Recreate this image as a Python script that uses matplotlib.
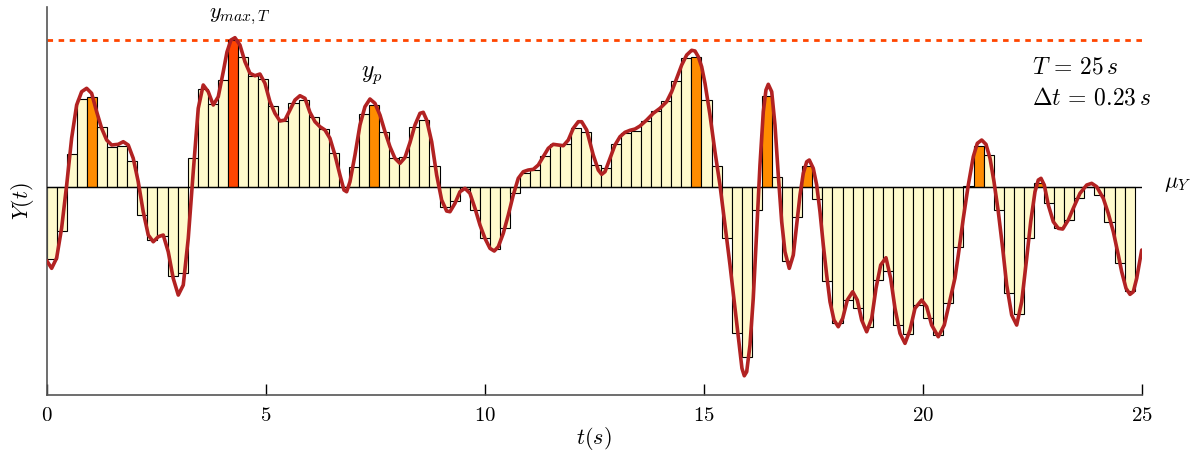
import numpy as np
import matplotlib
matplotlib.use("Agg")
import matplotlib.pyplot as plt

plt.rcParams['mathtext.fontset'] = 'cm'
plt.rcParams['font.family'] = 'serif'

# record length and sampling step
T = 25.0
dt = 0.23

# sampled values, one per step interval (deviation from the mean)
y_steps = [
    -0.72, -0.44, 0.33, 0.88, 0.90, 0.60, 0.40, 0.41, 0.26, -0.28,
    -0.53, -0.49, -0.89, -0.86, 0.29, 0.98, 0.83, 1.07, 1.46, 1.30,
    1.11, 1.08, 0.81, 0.66, 0.84, 0.87, 0.70, 0.58, 0.34, 0.00,
    0.20, 0.73, 0.82, 0.55, 0.29, 0.30, 0.60, 0.67, 0.21, -0.20,
    -0.14, -0.02, -0.23, -0.51, -0.62, -0.41, -0.06, 0.14, 0.17, 0.31,
    0.43, 0.43, 0.59, 0.55, 0.22, 0.19, 0.43, 0.54, 0.56, 0.66,
    0.76, 0.86, 1.06, 1.29, 1.30, 0.87, 0.21, -0.51, -1.46, -1.70,
    -0.23, 0.91, 0.10, -0.74, -0.30, 0.21, -0.12, -0.94, -1.36, -1.13,
    -1.21, -1.40, -0.93, -0.84, -1.38, -1.47, -1.18, -1.31, -1.48, -1.16,
    -0.60, 0.01, 0.41, 0.32, -0.23, -1.06, -1.27, -0.51, 0.04, -0.16,
    -0.41, -0.33, -0.11, 0.00, -0.08, -0.35, -0.76, -1.04,
]

# local peaks above the mean, and the overall maximum
peak_idx = [4, 32, 64, 71, 75, 92, 98]
max_idx = 18

# continuous record Y(t)
t_curve = [
    0.000, 0.114, 0.228, 0.342, 0.457, 0.571, 0.685, 0.799, 0.913, 1.027,
    1.142, 1.256, 1.370, 1.484, 1.635, 1.749, 1.863, 1.977, 2.091, 2.205,
    2.320, 2.434, 2.548, 2.662, 2.776, 2.890, 3.005, 3.119, 3.233, 3.347,
    3.461, 3.575, 3.689, 3.804, 3.918, 4.032, 4.117, 4.208, 4.299, 4.413,
    4.527, 4.642, 4.756, 4.870, 4.984, 5.098, 5.212, 5.326, 5.441, 5.555,
    5.669, 5.783, 5.897, 6.011, 6.126, 6.240, 6.354, 6.468, 6.582, 6.696,
    6.788, 6.849, 6.925, 7.039, 7.153, 7.267, 7.381, 7.495, 7.610, 7.724,
    7.838, 7.952, 8.066, 8.180, 8.295, 8.409, 8.523, 8.598, 8.676, 8.790,
    8.904, 9.018, 9.132, 9.208, 9.322, 9.436, 9.550, 9.664, 9.779, 9.893,
    10.007, 10.121, 10.219, 10.311, 10.425, 10.539, 10.653, 10.767, 10.881, 10.995,
    11.110, 11.224, 11.338, 11.452, 11.566, 11.680, 11.795, 11.909, 12.023, 12.137,
    12.215, 12.329, 12.479, 12.594, 12.671, 12.747, 12.861, 12.975, 13.089, 13.203,
    13.317, 13.432, 13.546, 13.699, 13.849, 14.002, 14.155, 14.269, 14.384, 14.498,
    14.612, 14.726, 14.801, 14.877, 14.954, 15.030, 15.144, 15.258, 15.372, 15.486,
    15.601, 15.715, 15.813, 15.874, 15.927, 15.982, 16.057, 16.132, 16.210, 16.285,
    16.361, 16.422, 16.475, 16.553, 16.628, 16.703, 16.781, 16.856, 16.954, 17.046,
    17.123, 17.199, 17.274, 17.352, 17.411, 17.502, 17.580, 17.655, 17.731, 17.808,
    17.884, 17.975, 18.073, 18.174, 18.279, 18.402, 18.507, 18.607, 18.721, 18.836,
    18.934, 19.041, 19.162, 19.269, 19.368, 19.482, 19.596, 19.710, 19.824, 19.977,
    20.091, 20.205, 20.356, 20.493, 20.623, 20.737, 20.813, 20.927, 21.041, 21.155,
    21.247, 21.347, 21.445, 21.537, 21.628, 21.726, 21.826, 21.918, 22.032, 22.146,
    22.260, 22.374, 22.466, 22.564, 22.639, 22.701, 22.776, 22.868, 22.982, 23.096,
    23.196, 23.324, 23.438, 23.591, 23.744, 23.858, 23.973, 24.123, 24.237, 24.352,
    24.466, 24.543, 24.642, 24.733, 24.808, 24.886, 25.000,
]
y_curve = [
    -0.74, -0.818, -0.715, -0.415, 0.015, 0.485, 0.815, 0.948, 0.982, 0.932,
    0.748, 0.582, 0.465, 0.415, 0.422, 0.448, 0.415, 0.282, 0.048, -0.252,
    -0.485, -0.552, -0.502, -0.485, -0.652, -0.918, -1.085, -0.985, -0.518, 0.148,
    0.782, 1.015, 0.948, 0.815, 0.898, 1.148, 1.345, 1.465, 1.488, 1.415,
    1.248, 1.132, 1.108, 1.125, 1.032, 0.848, 0.732, 0.655, 0.665, 0.765,
    0.865, 0.908, 0.882, 0.742, 0.648, 0.598, 0.565, 0.482, 0.315, 0.115,
    -0.035, -0.052, 0.048, 0.315, 0.615, 0.798, 0.875, 0.832, 0.715, 0.548,
    0.398, 0.282, 0.232, 0.29, 0.44, 0.615, 0.732, 0.742, 0.665, 0.448,
    0.115, -0.135, -0.245, -0.252, -0.168, -0.052, -0.018, -0.068, -0.218, -0.385,
    -0.518, -0.618, -0.645, -0.602, -0.468, -0.285, -0.085, 0.082, 0.148, 0.165,
    0.172, 0.215, 0.298, 0.382, 0.422, 0.415, 0.408, 0.465, 0.582, 0.648,
    0.648, 0.565, 0.315, 0.165, 0.122, 0.148, 0.282, 0.415, 0.498, 0.542,
    0.562, 0.575, 0.605, 0.665, 0.732, 0.782, 0.848, 0.948, 1.082, 1.215,
    1.315, 1.362, 1.355, 1.298, 1.198, 1.032, 0.715, 0.348, 0.015, -0.385,
    -0.785, -1.218, -1.585, -1.818, -1.892, -1.852, -1.585, -1.118, -0.452, 0.215,
    0.748, 0.965, 1.022, 0.948, 0.615, 0.115, -0.352, -0.652, -0.818, -0.685,
    -0.385, -0.085, 0.132, 0.248, 0.265, 0.182, 0.015, -0.252, -0.585, -0.885,
    -1.152, -1.335, -1.402, -1.318, -1.135, -1.052, -1.135, -1.335, -1.452, -1.318,
    -1.018, -0.785, -0.712, -0.918, -1.218, -1.468, -1.568, -1.435, -1.218, -1.135,
    -1.202, -1.385, -1.502, -1.385, -1.135, -0.915, -0.685, -0.318, 0.015, 0.298,
    0.432, 0.465, 0.422, 0.282, 0.048, -0.252, -0.618, -0.985, -1.285, -1.385,
    -1.152, -0.718, -0.352, -0.052, 0.065, 0.082, 0.015, -0.185, -0.352, -0.418,
    -0.425, -0.335, -0.218, -0.068, 0.015, 0.032, -0.002, -0.118, -0.268, -0.452,
    -0.685, -0.852, -1.018, -1.078, -1.052, -0.918, -0.635,
]

fig = plt.figure(figsize=(11.96, 4.51), dpi=100)
ax = fig.add_axes([0.039, 0.124, 0.9156, 0.8605])

n = len(y_steps)
t_left = np.arange(n) * dt
colors = ['#FFFACD'] * n
for i in peak_idx:
    colors[i] = '#FF8C00'
colors[max_idx] = '#FF4500'

ax.bar(t_left, y_steps, width=dt, align='edge', color=colors,
       edgecolor='black', linewidth=0.8, zorder=2)

# mean level and maximum level
ax.plot([0, T], [0, 0], color='black', lw=1.0, zorder=3)
ax.plot([0, T], [y_steps[max_idx]] * 2, color='#FF4500', lw=2,
        linestyle=(0, (2, 2)), zorder=1)

ax.plot(t_curve, y_curve, color='#B22222', lw=2.6, zorder=4,
        solid_joinstyle='round', solid_capstyle='round')

ax.text(4.41, 1.70, r'$y_{max,T}$', fontsize=16, ha='center', va='center')
ax.text(7.43, 1.12, r'$y_p$', fontsize=17, ha='center', va='center')
ax.text(22.5, 1.195, r'$T\,=\,25\,s$', fontsize=17, ha='left', va='center')
ax.text(22.5, 0.885, r'$\Delta t\,=\,0.23\,s$', fontsize=17, ha='left', va='center')
ax.text(25.5, 0.035, r'$\mu_Y$', fontsize=16, ha='left', va='center', clip_on=False)

ax.set_xlim(0, T)
ax.set_ylim(-2.085, 1.795)
ax.set_xticks([0, 5, 10, 15, 20, 25])
ax.set_xticklabels([r'$%d$' % v for v in [0, 5, 10, 15, 20, 25]], fontsize=15)
ax.set_yticks([])
ax.tick_params(axis='x', direction='in', length=8, width=1, pad=8)
ax.set_xlabel(r'$t(s)$', fontsize=16, labelpad=0)
ax.set_ylabel(r'$Y(t)$', fontsize=16, labelpad=8)

for side in ['top', 'right']:
    ax.spines[side].set_visible(False)
for side in ['left', 'bottom']:
    ax.spines[side].set_color('#555555')
    ax.spines[side].set_linewidth(1.2)

fig.savefig('out.png', dpi=100)
